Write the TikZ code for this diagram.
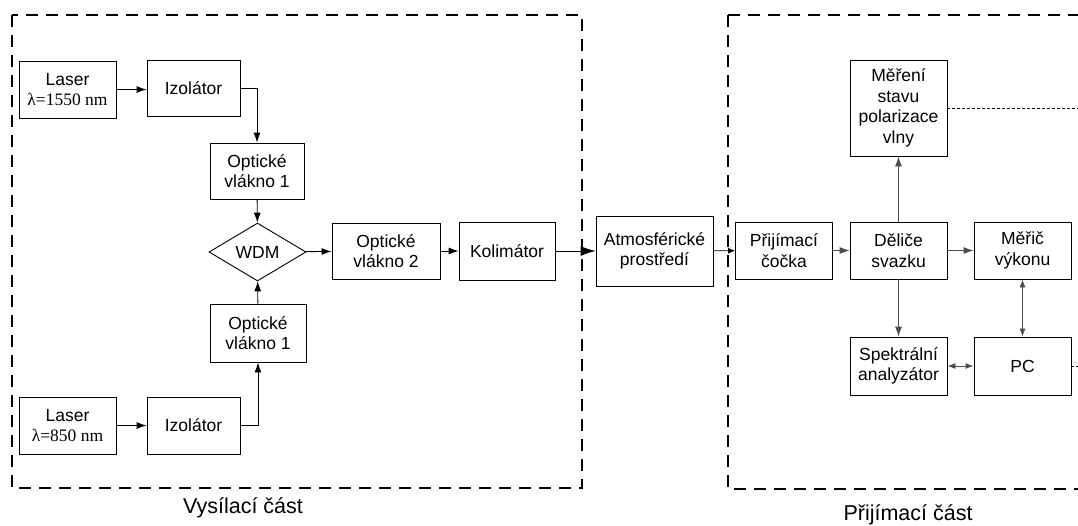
\documentclass[tikz,border=0pt]{standalone}
\usepackage{fontspec}
\setmainfont{Liberation Sans}
\newfontfamily\timesfont{Liberation Serif}
\usetikzlibrary{arrows.meta,shapes.geometric}

\begin{document}
\begin{tikzpicture}[x=1pt, y=-1pt,
    block/.style={draw, line width=0.9pt, minimum width=97pt, minimum height=57pt, inner sep=2pt, align=center, font=\fontsize{17.5}{20.5}\selectfont},
    wdm/.style={draw, line width=0.9pt, diamond, aspect=1.67, minimum width=97pt, minimum height=58pt, inner sep=0pt, font=\fontsize{17.5}{20.5}\selectfont},
    link/.style={line width=0.9pt, -{Latex[length=10pt,width=7pt]}},
    glink/.style={link, draw=black!70},
    both/.style={line width=0.9pt, draw=black!70, {Latex[length=8pt,width=6pt]}-{Latex[length=8pt,width=6pt]}},
    part/.style={line width=2pt, dash pattern=on 12pt off 8pt},
    caption/.style={font=\fontsize{21.5}{24}\selectfont},
  ]
\useasboundingbox (0,0) rectangle (1078,525);

%transmitter part
\draw[part] (12,15) rectangle (582,488);
\node[caption] (vys) at (243,508) {Vysílací část};

\node[block] (laserA) at (67.5,89.5) {Laser\\[-1pt]{\timesfont λ=1550 nm}};
\node[block, minimum width=93pt, minimum height=56pt] (izolA) at (193.5,88) {Izolátor};
\node[block, minimum width=94pt, minimum height=56pt] (vlaknoA) at (257,171) {Optické\\vlákno 1};
\node[wdm] (wdm) at (257.5,252) {WDM};
\node[block, minimum width=96pt, minimum height=58pt] (vlaknoB) at (258,333) {Optické\\vlákno 1};
\node[block] (laserB) at (67.5,425.5) {Laser\\[-1pt]{\timesfont λ=850 nm}};
\node[block, minimum width=93pt] (izolB) at (193.5,425.5) {Izolátor};
\node[block, minimum width=108pt, minimum height=56pt] (vlakno2) at (386,251) {Optické\\vlákno 2};
\node[block, minimum width=96pt, minimum height=58pt] (kolim) at (507,251) {Kolimátor};

\draw[link] (laserA) -- (izolA.west |- laserA);
\draw[link] (izolA.east) -| (vlaknoA.north);
\draw[link] (vlaknoA) -- (wdm);
\draw[link] (laserB) -- (izolB);
\draw[link] (izolB.east) -| (vlaknoB.south);
\draw[link] (vlaknoB) -- (wdm);
\draw[link] (wdm) -- (vlakno2);
\draw[link] (vlakno2) -- (kolim);

%free space
\node[block, minimum width=117pt, minimum height=70pt] (atmo) at (654.5,251) {Atmosférické\\prostředí};
\draw[line width=0.9pt, -{Latex[length=15pt,width=10pt]}] (kolim) -- (atmo);

%receiver part
\draw[part] (728,15) -- (1095,15);
\draw[part] (728,15) -- (728,489) -- (1095,489);
\node[caption] (prij) at (908,515) {Přijímací část};

\node[block] (cocka) at (784,250.5) {Přijímací\\čočka};
\node[block] (delic) at (898.5,250.5) {Děliče\\svazku};
\node[block] (meric) at (1022.5,250.5) {Měřič\\výkonu};
\node[block, minimum height=96pt] (polar) at (898.5,108) {Měření\\stavu\\polarizace\\vlny};
\node[block, minimum height=58pt] (spektr) at (898.5,366) {Spektrální\\analyzátor};
\node[block, minimum height=58pt] (pc) at (1022.5,366) {PC};
\coordinate (polarEnd) at (1090,108);
\coordinate (pcEnd) at (1090,366);

\draw[line width=0.9pt, -{Latex[length=7pt,width=6pt]}] (atmo) -- (cocka);
\draw[glink] (cocka) -- (delic);
\draw[glink] (delic) -- (meric);
\draw[glink] (delic) -- (polar);
\draw[glink] (delic) -- (spektr);
\draw[both] (meric) -- (pc);
\draw[both] (spektr) -- (pc);
\draw[line width=0.6pt, dash pattern=on 3pt off 2pt] (polar) -- (polarEnd);
\draw[line width=0.6pt, dash pattern=on 3pt off 2pt] (pc) -- (pcEnd);
\end{tikzpicture}
\end{document}
